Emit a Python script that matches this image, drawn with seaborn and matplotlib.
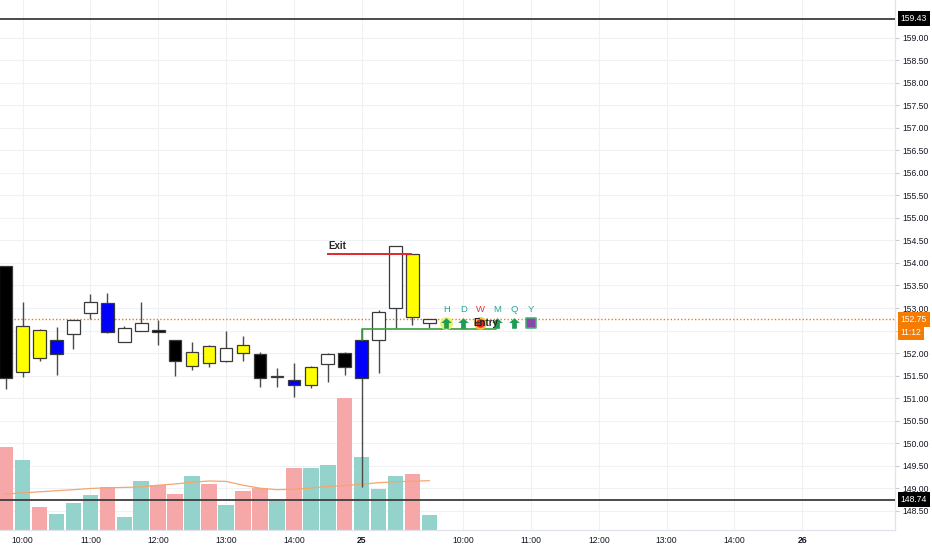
import numpy as np
import pandas as pd
import matplotlib
matplotlib.use("Agg")
import matplotlib.pyplot as plt
from matplotlib.path import Path
import seaborn as sns

# 15 minute bars, bar 21 is the first bar of the 25th
bars = list(range(26))
opens = [153.93, 151.57, 152.51, 151.98, 152.42, 152.89, 153.12, 152.25, 152.49, 152.52,
         152.29, 151.72, 152.16, 151.83, 152.18, 151.97, 151.46, 151.41, 151.30, 151.75,
         151.99, 151.44, 152.28, 153.00, 154.20, 152.67]
highs = [153.93, 153.13, 152.53, 152.57, 152.74, 153.31, 153.34, 152.60, 153.13, 152.73,
         152.30, 152.24, 152.17, 152.48, 152.37, 152.02, 151.66, 151.77, 151.72, 152.01,
         152.02, 152.53, 152.95, 154.37, 154.20, 152.76]
lows = [151.19, 151.47, 151.83, 151.52, 152.08, 152.76, 152.45, 152.24, 152.48, 152.18,
        151.50, 151.62, 151.70, 151.79, 151.83, 151.24, 151.24, 151.03, 151.23, 151.36,
        151.52, 149.03, 151.56, 152.55, 152.62, 152.55]
closes = [151.44, 152.59, 151.90, 152.29, 152.73, 153.14, 152.46, 152.55, 152.66, 152.46,
          151.82, 152.03, 151.78, 152.11, 152.01, 151.44, 151.48, 151.28, 151.70, 151.97,
          151.70, 152.30, 152.92, 154.37, 152.80, 152.75]
body_colors = ["black", "yellow", "yellow", "blue", "white", "white", "blue", "white", "white", "black",
               "black", "yellow", "yellow", "white", "yellow", "black", "#9a9a9a", "blue", "yellow", "white",
               "black", "blue", "white", "white", "yellow", "white"]

volumes = [826, 703, 233, 156, 273, 346, 430, 130, 490, 453,
           363, 540, 456, 253, 386, 416, 293, 623, 616, 653,
           1320, 730, 413, 543, 563, 153]
volume_dirs = ["down", "up", "down", "up", "up", "up", "down", "up", "up", "down",
               "down", "up", "down", "up", "down", "down", "up", "down", "up", "up",
               "down", "up", "up", "up", "down", "up"]
volume_ma = [360, 371, 382, 393, 403, 415, 422, 426, 431, 448,
             460, 478, 490, 486, 448, 418, 403, 408, 419, 436,
             445, 458, 473, 483, 488, 493]

time_tick_bars = [1, 5, 9, 13, 17, 21, 27, 31, 35, 39, 43, 47]
time_tick_labels = ["10:00", "11:00", "12:00", "13:00", "14:00", "25",
                    "10:00", "11:00", "12:00", "13:00", "14:00", "26"]

level_high = 159.43
level_low = 148.74
last_price = 152.75
countdown = "11:12"
exit_price = 154.20
exit_span = (18.96, 23.95)
entry_price = 152.53
entry_bar = 21
entry_end = 28.9

signal_bars = [26, 27, 28, 29, 30, 31]
signal_labels = ["H", "D", "W", "M", "Q", "Y"]
signal_kinds = ["up_glow", "up", "dot", "up", "up", "square"]
signal_colors = ["#26a69a", "#26a69a", "#e53935", "#26a69a", "#26a69a", "#26a69a"]
signal_label_y = 152.97
signal_icon_y = 152.67

sns.set_style("white")
plt.rcParams['font.family'] = ['Liberation Sans', 'DejaVu Sans']

XLIM = (-0.336, 52.47)
YLIM = (148.067, 159.844)
price_ticks = np.arange(148.5, 159.01, 0.5)

fig = plt.figure(figsize=(9.32, 5.5), dpi=100)
rect = [0, 20 / 550, 895 / 932, 530 / 550]

# grid layer, under the volume bars
ax_grid = fig.add_axes(rect)
ax_grid.set_xlim(*XLIM)
ax_grid.set_ylim(*YLIM)
ax_grid.set_xticks(time_tick_bars)
ax_grid.set_yticks(price_ticks)
ax_grid.grid(True, color='#eff1f5', lw=0.8)
ax_grid.tick_params(length=0, labelbottom=False, labelleft=False)
for s in ax_grid.spines.values():
    s.set_visible(False)

ax_vol = fig.add_axes(rect, sharex=ax_grid)
ax_vol.patch.set_visible(False)
ax = ax_vol.twinx()

# volume pane
vol_df = pd.DataFrame({'bar': bars, 'volume': volumes, 'dir': volume_dirs})
sns.barplot(data=vol_df, x='bar', y='volume', hue='dir',
            palette={'up': '#93d3cc', 'down': '#f5a8a7'},
            native_scale=True, width=0.92, dodge=False, saturation=1,
            linewidth=0, errorbar=None, legend=False, ax=ax_vol)
sns.lineplot(x=bars, y=volume_ma, color='#f6a56c', lw=0.9, ax=ax_vol, zorder=5)
ax_vol.set_ylim(0, 5300)
ax_vol.set_yticks([])
ax_vol.set_xlabel('')
ax_vol.set_ylabel('')

# candles
o = np.array(opens)
c = np.array(closes)
bottoms = np.minimum(o, c)
heights = np.maximum(np.abs(c - o), 0.025)
ax.vlines(bars, lows, highs, color='#4a4a4a', lw=1, zorder=3)
ax.bar(bars, heights, bottom=bottoms, width=0.74, color=body_colors,
       edgecolor='#3a3a3a', linewidth=0.9, zorder=4)

# levels
ax.axhline(level_high, color='#3d3d3d', lw=1.3, zorder=5)
ax.axhline(level_low, color='#3d3d3d', lw=1.3, zorder=5)
ax.axhline(last_price, color='#f57c00', lw=1.0, ls=(0, (1, 1.5)), zorder=2)

# exit / entry
ax.hlines(exit_price, exit_span[0], exit_span[1], color='#e0282e', lw=1.4, zorder=6)
ax.text(exit_span[0] + 0.1, exit_price + 0.06, 'Exit', fontsize=7, fontweight='bold',
        ha='left', va='bottom', zorder=10)
ax.plot([entry_bar, entry_bar, entry_end], [closes[entry_bar], entry_price, entry_price],
        color='#3a9f3f', lw=1.2, zorder=6)

# signal table
arrow = Path([(0, 1), (1, 0.1), (0.45, 0.1), (0.45, -1), (-0.45, -1), (-0.45, 0.1), (-1, 0.1), (0, 1)],
             closed=True)
for b, lab, kind, col in zip(signal_bars, signal_labels, signal_kinds, signal_colors):
    ax.text(b, signal_label_y, lab, color=col, fontsize=6.8, ha='center', va='center', zorder=8)
    if kind == 'up_glow':
        ax.scatter(b, signal_icon_y, s=85, color='#f2ee5c', lw=0, zorder=7)
    if kind in ('up', 'up_glow'):
        ax.scatter(b, signal_icon_y, marker=arrow, s=58, color='#1f9d55', lw=0, zorder=8)
    elif kind == 'dot':
        ax.scatter(b, signal_icon_y, s=85, color='#f7c23a', lw=0, zorder=7)
        ax.scatter(b, signal_icon_y, s=38, color='#e8202a', lw=0, zorder=8)
    elif kind == 'square':
        ax.scatter(b, signal_icon_y, marker='s', s=42, color='#8e44ad',
                   edgecolor='#3cb371', lw=1.1, zorder=8)
ax.text(28.35, signal_icon_y, 'Entry', fontsize=7, fontweight='bold',
        ha='center', va='center', zorder=10)

# axes
ax.set_xlim(*XLIM)
ax.set_ylim(*YLIM)
ax.set_yticks(price_ticks)
# the 152.50 label sits under the countdown tag, so it is left blank
ax.yaxis.set_major_formatter(matplotlib.ticker.FuncFormatter(
    lambda v, p: '' if abs(v - 152.5) < 1e-6 else f'{v:.2f}'))
ax.tick_params(axis='y', length=3, color='#c8cbd3', pad=2, labelsize=6.2, labelcolor='#131722')

ax_vol.set_xticks(time_tick_bars, time_tick_labels)
ax_vol.tick_params(axis='x', length=0, pad=4, labelsize=6.2, labelcolor='#131722')
for t in ax_vol.get_xticklabels():
    if ':' not in t.get_text():
        t.set_fontweight('bold')

for a in (ax, ax_vol):
    a.spines['top'].set_visible(False)
    a.spines['left'].set_visible(False)
    a.spines['right'].set_color('#e0e3eb')
    a.spines['bottom'].set_color('#e0e3eb')
    a.spines['right'].set_linewidth(0.8)
    a.spines['bottom'].set_linewidth(0.8)

# price tags on the scale
ytr = ax.get_yaxis_transform()
def price_tag(y, text, fc, dy=0):
    ax.annotate(text, xy=(1, y), xycoords=ytr, xytext=(4, dy), textcoords='offset points',
                ha='left', va='center', fontsize=6.2, color='white',
                bbox=dict(boxstyle='square,pad=0.35', fc=fc, ec='none'),
                annotation_clip=False, zorder=20)

price_tag(level_high, f'{level_high:.2f}', 'black')
price_tag(level_low, f'{level_low:.2f}', 'black')
price_tag(last_price, f'{last_price:.2f}', '#f57c00')
price_tag(last_price, countdown, '#f57c00', dy=-9.5)

fig.savefig('out.png', dpi=100)
